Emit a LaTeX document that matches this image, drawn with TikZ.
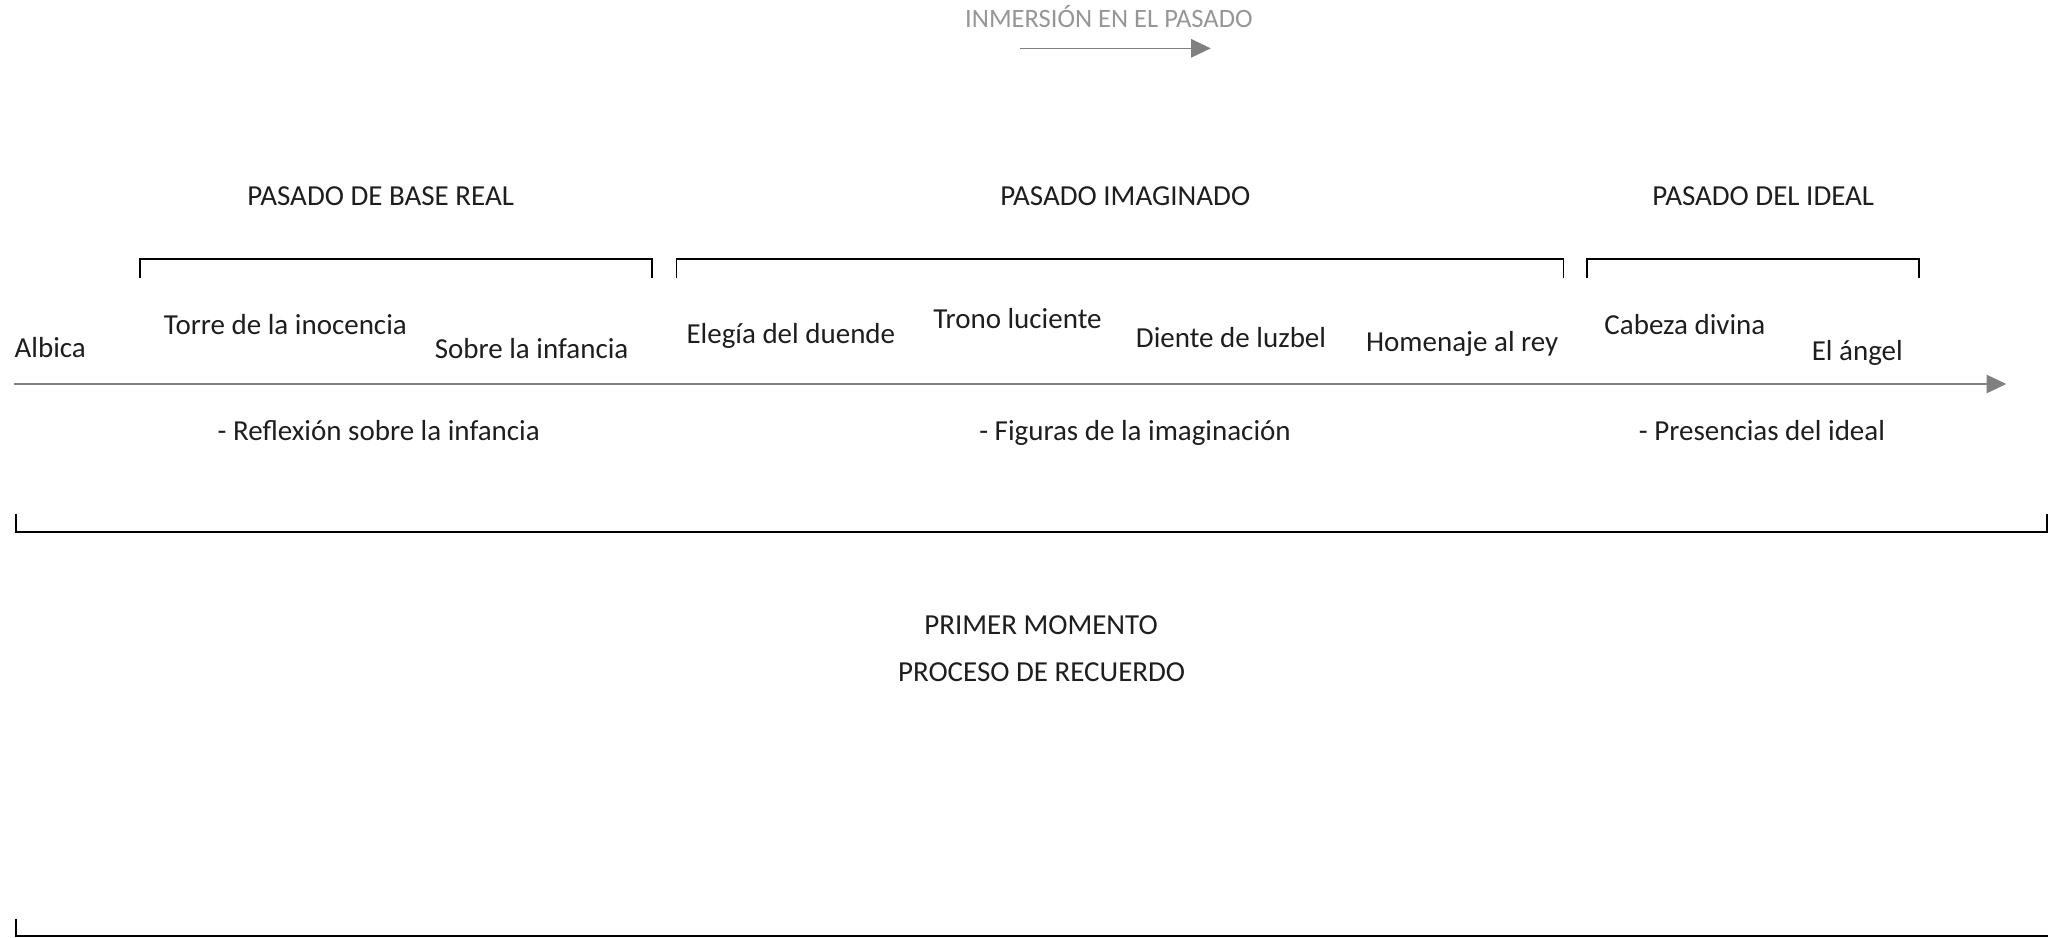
\documentclass[tikz,border=0pt]{standalone}
\usepackage{fontspec}
\setmainfont{Carlito}
\usetikzlibrary{arrows.meta}
\definecolor{txt}{RGB}{30,30,30}
\definecolor{ttl}{RGB}{150,150,150}
\definecolor{axis}{RGB}{128,128,128}
\begin{document}
\begin{tikzpicture}[x=1pt,y=-1pt,
  lbl/.style={font=\fontsize{22.2}{26}\selectfont, text=txt, inner sep=0pt, anchor=base},
  ttlstyle/.style={font=\fontsize{20.3}{24}\selectfont, text=ttl, inner sep=0pt, anchor=base},
  axisline/.style={draw=axis, line width=1.2pt, -{Triangle[length=15pt,width=14pt]}},
  brk/.style={draw=black, line width=1.3pt},
  bigbrk/.style={draw=black, line width=1.6pt}
]
\useasboundingbox (0,0) rectangle (1568,718);

% title and its arrow
\node[ttlstyle] (title) at (849,21) {INMERSIÓN EN EL PASADO};
\coordinate (ta) at (781,37);
\coordinate (tb) at (927,37);
\draw[axisline] (ta) -- (tb);

% section headings
\node[lbl] (h1) at (291.5,157.3) {PASADO DE BASE REAL};
\node[lbl] (h2) at (861.5,157.3) {PASADO IMAGINADO};
\node[lbl] (h3) at (1350,157.3) {PASADO DEL IDEAL};

% brackets
\coordinate (b1l) at (107,198.5); \coordinate (b1r) at (499,198.5);
\coordinate (b2l) at (518,198.5); \coordinate (b2r) at (1197,198.5);
\coordinate (b3l) at (1215,198.5); \coordinate (b3r) at (1469,198.5);
\draw[brk] ([yshift=-14pt]b1l) -- (b1l) -- (b1r) -- ([yshift=-14pt]b1r);
\draw[brk] ([yshift=-14pt]b2l) -- (b2l) -- (b2r) -- ([yshift=-14pt]b2r);
\draw[brk] ([yshift=-14pt]b3l) -- (b3l) -- (b3r) -- ([yshift=-14pt]b3r);

% works
\node[lbl, anchor=base west] (albica) at (11,273.5) {Albica};
\node[lbl] (torre) at (218.5,256) {Torre de la inocencia};
\node[lbl] (sobre) at (407,274.3) {Sobre la infancia};
\node[lbl] (elegia) at (605.5,262.8) {Elegía del duende};
\node[lbl] (trono) at (779,251.8) {Trono luciente};
\node[lbl] (diente) at (942.5,266.3) {Diente de luzbel};
\node[lbl] (homenaje) at (1119.5,268.8) {Homenaje al rey};
\node[lbl] (cabeza) at (1290,256) {Cabeza divina};
\node[lbl] (angel) at (1422,275.8) {El ángel};

% timeline
\coordinate (t0) at (11,294);
\coordinate (t1) at (1536,294);
\draw[axisline] (t0) -- (t1);

% themes
\node[lbl] (s1) at (290,337.3) {- Reflexión sobre la infancia};
\node[lbl] (s2) at (869,337.3) {- Figuras de la imaginación};
\node[lbl] (s3) at (1349,337.3) {- Presencias del ideal};

% middle bracket
\coordinate (m0) at (12,407.3);
\coordinate (m1) at (1567,407.3);
\draw[bigbrk] ([yshift=14pt]m0) -- (m0) -- (m1) -- ([yshift=14pt]m1);

% moment labels
\node[lbl] (p1) at (797,485.8) {PRIMER MOMENTO};
\node[lbl] (p2) at (797.5,521.8) {PROCESO DE RECUERDO};

% bottom bracket
\coordinate (n0) at (12,716.3);
\coordinate (n1) at (1568,716.3);
\draw[bigbrk] ([yshift=13pt]n0) -- (n0) -- (n1);
\end{tikzpicture}
\end{document}
